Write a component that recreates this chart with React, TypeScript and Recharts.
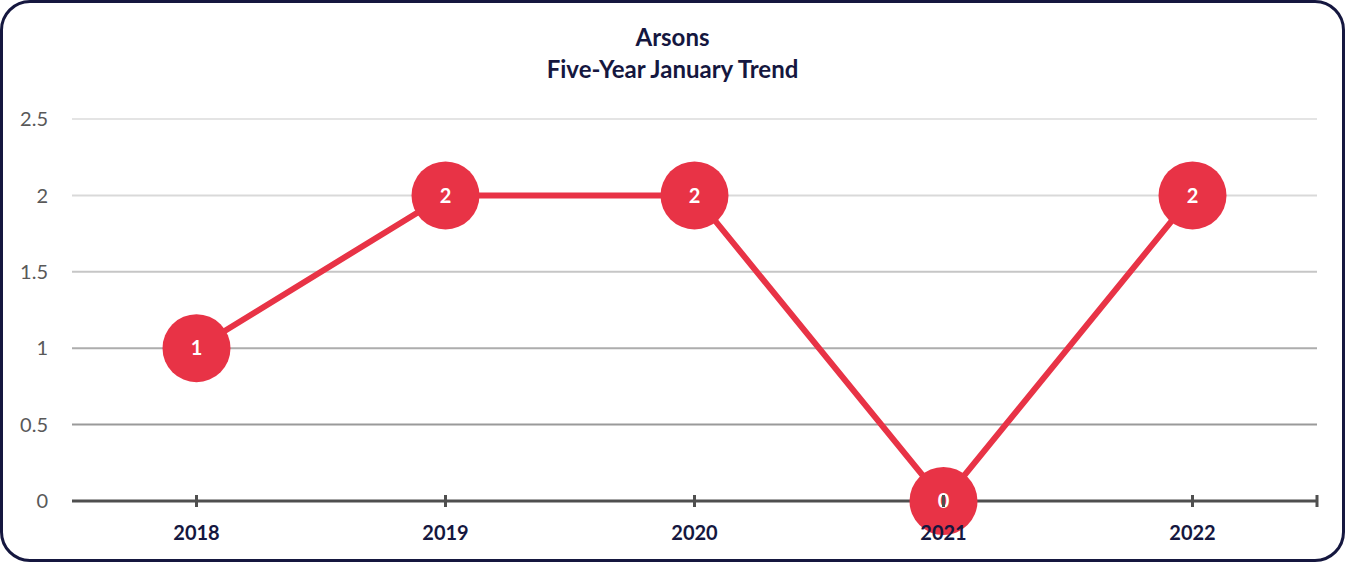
import React from "react";
import { LineChart, Line, XAxis, YAxis, ReferenceLine, LabelList } from "recharts";

const years = ["2018", "2019", "2020", "2021", "2022"];
const arsons = [1, 2, 2, 0, 2];
const yTicks = [0, 0.5, 1, 1.5, 2, 2.5];
const gridColors = ["#9a9a9a", "#adadad", "#c6c6c6", "#d9d9d9", "#e4e4e4"];

const data = years.map((year, i) => ({ year, arsons: arsons[i] }));

const W = 1345;
const H = 562;
const xAxisHeight = 30;
const margin = { top: 119, right: 28, left: 0, bottom: 61 - xAxisHeight };
const yAxisWidth = 72;
const plotWidth = W - margin.right - yAxisWidth;
const band = plotWidth / years.length;
const axisY = H - margin.bottom - xAxisHeight;
const navy = "#15173f";
const red = "#e83346";
const axisGray = "#4f4f4f";

const XTick = (props: any) => {
  const { x, payload, index } = props;
  return (
    <g>
      <line x1={x} x2={x} y1={axisY - 6} y2={axisY + 6} stroke={axisGray} strokeWidth={3} />
      {index === years.length - 1 && (
        <line x1={x + band / 2} x2={x + band / 2} y1={axisY - 6} y2={axisY + 6} stroke={axisGray} strokeWidth={3} />
      )}
      <text
        x={x}
        y={axisY + 31}
        textAnchor="middle"
        dominantBaseline="central"
        fill={navy}
        fontSize={20}
        fontWeight={700}
        fontFamily="Lato"
      >
        {payload.value}
      </text>
    </g>
  );
};

const App: React.FC = () => {
  return (
    <div
      style={{
        position: "absolute",
        left: 0,
        top: 0,
        width: W,
        height: H,
        boxSizing: "border-box",
        border: `3px solid ${navy}`,
        borderRadius: 30,
        background: "#fff",
        overflow: "hidden",
      }}
    >
      <div
        style={{
          position: "absolute",
          left: -3,
          top: 18,
          width: W,
          textAlign: "center",
          fontFamily: "Lato",
          fontWeight: 700,
          fontSize: 24,
          lineHeight: "32px",
          color: navy,
        }}
      >
        <div>Arsons</div>
        <div>Five-Year January Trend</div>
      </div>
      <div style={{ position: "absolute", left: -3, top: -3 }}>
        <LineChart width={W} height={H} data={data} margin={margin}>
          {yTicks.slice(1).map((v, i) => (
            <ReferenceLine key={v} y={v} stroke={gridColors[i]} strokeWidth={2} />
          ))}
          <YAxis
            width={yAxisWidth}
            domain={[0, 2.5]}
            ticks={yTicks}
            axisLine={false}
            tickLine={false}
            tickMargin={18}
            tick={{ fill: "#595959", fontSize: 20, fontFamily: "Lato" }}
          />
          <Line
            dataKey="arsons"
            stroke={red}
            strokeWidth={6}
            dot={{ r: 34, fill: red, stroke: red, strokeWidth: 0 }}
            activeDot={false}
            isAnimationActive={false}
          >
            <LabelList
              dataKey="arsons"
              position="center"
              fill="#fff"
              fontSize={20}
              fontWeight={700}
              fontFamily="Lato"
            />
          </Line>
          <XAxis
            dataKey="year"
            height={xAxisHeight}
            padding={{ left: band / 2, right: band / 2 }}
            axisLine={{ stroke: axisGray, strokeWidth: 3 }}
            tickLine={false}
            tick={<XTick />}
            interval={0}
          />
        </LineChart>
      </div>
    </div>
  );
};

export default App;
